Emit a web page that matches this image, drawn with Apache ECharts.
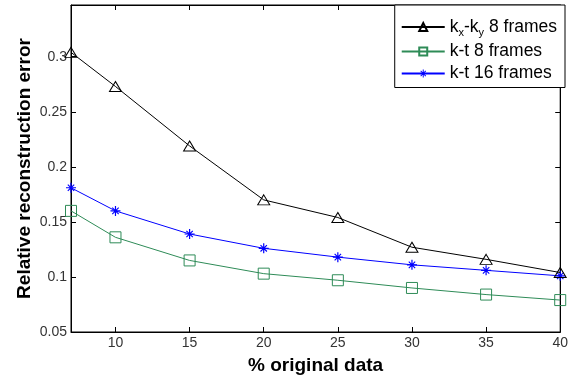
<!DOCTYPE html>
<html><head><meta charset="utf-8">
<script src="https://cdn.jsdelivr.net/npm/echarts@6/dist/echarts.min.js"></script>
<style>html,body{margin:0;padding:0;background:#fff}#c{width:571px;height:382px}</style>
</head><body><div id="c"></div>
<script>
const xValues = [7, 10, 15, 20, 25, 30, 35, 40];
const kxky8 = [0.304, 0.273, 0.219, 0.170, 0.154, 0.127, 0.116, 0.104];
const kt8 = [0.160, 0.136, 0.115, 0.103, 0.097, 0.090, 0.084, 0.079];
const kt16 = [0.181, 0.160, 0.139, 0.126, 0.118, 0.111, 0.106, 0.101];
const seriesNames = ['kx-ky 8 frames', 'k-t 8 frames', 'k-t 16 frames'];
const xTicks = [10, 15, 20, 25, 30, 35, 40];
const yTicks = [0.05, 0.1, 0.15, 0.2, 0.25, 0.3];

const FONT = '"Liberation Sans", Arial, sans-serif';
const tri = 'path://M0,-10 L10,8 L-10,8 Z';
const star = 'path://M-0.6,-5 L0.6,-5 L0.6,5 L-0.6,5 Z M-5,-0.6 L5,-0.6 L5,0.6 L-5,0.6 Z M-3.6,-2.8 L-2.8,-3.6 L3.6,2.8 L2.8,3.6 Z M2.8,-3.6 L3.6,-2.8 L-2.8,3.6 L-3.6,2.8 Z';

function pairs(v){ return xValues.map((x,i)=>[x, v[i]]); }

const chart = echarts.init(document.getElementById('c'), null, {renderer:'canvas'});
chart.setOption({
  animation:false,
  grid:{left:71, right:5, top:5, bottom:50, show:true, borderColor:'#000', borderWidth:1, backgroundColor:'transparent'},
  legend:{
    right:6, top:5, orient:'vertical', itemWidth:43, itemHeight:10, itemGap:4,
    padding:[13,8,5,6],
    backgroundColor:'#fff', borderColor:'#000', borderWidth:1,
    textStyle:{fontFamily:FONT, fontSize:17.5, color:'#000',
      rich:{sub:{fontFamily:FONT, fontSize:11, color:'#000', verticalAlign:'bottom', padding:[12,0,0,0]}}},
    formatter:function(n){ return n === seriesNames[0] ? 'k{sub|x}-k{sub|y} 8 frames' : n; },
    data:seriesNames
  },
  xAxis:[{
    type:'value', min:7, max:40, position:'bottom',
    name:'% original data', nameLocation:'middle', nameGap:24,
    nameTextStyle:{fontFamily:FONT, fontSize:19, fontWeight:'bold', color:'#000'},
    axisLine:{show:true, onZero:false, lineStyle:{color:'#000', width:1}},
    axisLabel:{fontFamily:FONT, fontSize:14, color:'#333', margin:4, customValues: xTicks},
    axisTick:{show:true, inside:true, length:5, lineStyle:{color:'#000'}, customValues: xTicks},
    splitLine:{show:false}
  },
  {type:'value', min:7, max:40, position:'top', axisLine:{show:true,onZero:false,lineStyle:{color:'#000'}},
   axisLabel:{show:false}, splitLine:{show:false},
   axisTick:{show:true, inside:true, length:5, lineStyle:{color:'#000'}, customValues: xTicks}}],
  yAxis:[{
    type:'value', min:0.05, max:0.347, interval:0.05, position:'left',
    name:'Relative reconstruction error', nameLocation:'middle', nameGap:37, nameRotate:90,
    nameMoveOverlap:false,
    nameTextStyle:{fontFamily:FONT, fontSize:19, fontWeight:'bold', color:'#000'},
    axisLine:{show:true,onZero:false,lineStyle:{color:'#000'}},
    axisLabel:{fontFamily:FONT, fontSize:14, color:'#333', margin:4, customValues: yTicks,
      formatter:function(v){ return String(+v.toFixed(2)); }},
    axisTick:{show:true, inside:true, length:5, lineStyle:{color:'#000'}, customValues: yTicks},
    splitLine:{show:false}
  },{
    type:'value', min:0.05, max:0.347, position:'right',
    axisLine:{show:true,onZero:false,lineStyle:{color:'#000'}},
    axisLabel:{show:false}, splitLine:{show:false},
    axisTick:{show:true, inside:true, length:5, lineStyle:{color:'#000'}, customValues: yTicks}
  }],
  series:[
    {name:seriesNames[0], type:'line', data:pairs(kxky8), symbol:tri, symbolSize:[12,10],
     lineStyle:{color:'#000', width:1}, itemStyle:{color:'transparent', borderColor:'#000', borderWidth:1},
     z:3},
    {name:seriesNames[1], type:'line', data:pairs(kt8), symbol:'rect', symbolSize:11,
     lineStyle:{color:'#2e8b57', width:1}, itemStyle:{color:'transparent', borderColor:'#2e8b57', borderWidth:1},
     z:2},
    {name:seriesNames[2], type:'line', data:pairs(kt16), symbol:star, symbolSize:10,
     lineStyle:{color:'#0000ff', width:1}, itemStyle:{color:'#0000ff'},
     z:2}
  ]
});
</script></body></html>
